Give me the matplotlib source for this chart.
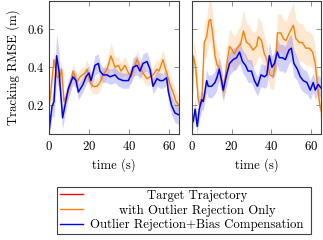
import matplotlib
matplotlib.use("Agg")
import matplotlib.pyplot as plt
import numpy as np
from matplotlib.lines import Line2D
from matplotlib.offsetbox import VPacker

FS = 9.2
plt.rcParams['font.family'] = ['cmr10', 'DejaVu Serif']
plt.rcParams['mathtext.fontset'] = 'cm'
plt.rcParams['axes.formatter.use_mathtext'] = True
plt.rcParams['font.size'] = FS

# ---------------- data ----------------
# left panel
t_left_blue = [0, 1.5, 2.5, 3.8, 5, 6.8, 8, 9.7, 12, 13.5, 14.7, 17, 18.5, 20, 21, 23, 24.7, 25.5, 27, 29,
               30.5, 33, 34.7, 37, 39.7, 41, 42, 44, 45.5, 47, 49, 50.5, 52, 54, 55.5, 57, 58.8, 59.7, 61.3, 63, 65]
rmse_left_blue = [0.06, 0.195, 0.22, 0.46, 0.38, 0.135, 0.2, 0.29, 0.35, 0.33, 0.27, 0.31, 0.35, 0.37, 0.33, 0.41,
                  0.42, 0.38, 0.36, 0.36, 0.35, 0.36, 0.34, 0.33, 0.33, 0.36, 0.40, 0.41, 0.38, 0.42, 0.43, 0.39,
                  0.30, 0.34, 0.33, 0.33, 0.345, 0.27, 0.20, 0.16, 0.15]
spread_left_blue = [0.03, 0.05, 0.08, 0.12, 0.10, 0.06, 0.05, 0.05, 0.04, 0.04, 0.04, 0.04, 0.04, 0.04, 0.04, 0.05,
                    0.05, 0.04, 0.04, 0.04, 0.04, 0.04, 0.04, 0.04, 0.04, 0.04, 0.05, 0.05, 0.04, 0.05, 0.05, 0.04,
                    0.04, 0.04, 0.04, 0.04, 0.04, 0.05, 0.05, 0.05, 0.05]

t_left_orange = [0, 0.5, 2.5, 4, 5.5, 6.3, 7.5, 9, 10.5, 12, 14, 15.5, 18, 19, 20.5, 22, 24, 25.5, 27, 29,
                 31, 33, 34.7, 36, 38, 39.7, 41, 44, 45.5, 47, 49, 50.5, 52, 54, 55, 57, 58, 60.5, 62, 63.5, 65]
rmse_left_orange = [0.2, 0.23, 0.44, 0.35, 0.35, 0.39, 0.22, 0.26, 0.30, 0.38, 0.32, 0.35, 0.37, 0.39, 0.32, 0.30,
                    0.30, 0.32, 0.36, 0.39, 0.46, 0.40, 0.41, 0.38, 0.41, 0.37, 0.35, 0.44, 0.40, 0.37, 0.34, 0.35,
                    0.36, 0.39, 0.38, 0.44, 0.40, 0.31, 0.27, 0.22, 0.20]
spread_left_orange = [0.03, 0.04, 0.05, 0.05, 0.05, 0.05, 0.04, 0.04, 0.04, 0.04, 0.04, 0.04, 0.04, 0.05, 0.04, 0.04,
                      0.04, 0.04, 0.04, 0.04, 0.07, 0.05, 0.05, 0.04, 0.05, 0.04, 0.04, 0.05, 0.05, 0.04, 0.04, 0.04,
                      0.04, 0.05, 0.05, 0.05, 0.05, 0.05, 0.05, 0.05, 0.05]

# right panel
t_right_blue = [0, 0.8, 1.7, 2.8, 3.8, 5, 5.8, 6.3, 7.5, 8.3, 10, 11.7, 12.8, 13.8, 15, 15.8, 17.5, 19, 20.8, 22.5,
                24, 25.5, 27, 28.3, 30, 31.5, 33, 34.8, 36.5, 37.7, 39, 40.3, 41.5, 43, 44, 45.5, 47, 48.8, 50, 51.3,
                53, 54.5, 56, 57.8, 59.5, 61, 62, 63.5, 65]
rmse_right_blue = [0.10, 0.12, 0.18, 0.09, 0.18, 0.23, 0.22, 0.25, 0.33, 0.30, 0.30, 0.32, 0.35, 0.39, 0.33, 0.28,
                   0.36, 0.42, 0.44, 0.45, 0.48, 0.43, 0.41, 0.38, 0.38, 0.33, 0.30, 0.36, 0.35, 0.36, 0.46, 0.40,
                   0.42, 0.48, 0.45, 0.45, 0.44, 0.49, 0.50, 0.42, 0.39, 0.35, 0.33, 0.32, 0.28, 0.32, 0.28, 0.31, 0.29]
spread_right_blue = [0.03, 0.04, 0.05, 0.04, 0.05, 0.05, 0.05, 0.05, 0.06, 0.06, 0.06, 0.06, 0.06, 0.06, 0.06, 0.05,
                     0.06, 0.06, 0.06, 0.06, 0.06, 0.06, 0.06, 0.06, 0.06, 0.05, 0.05, 0.06, 0.06, 0.06, 0.07, 0.06,
                     0.06, 0.07, 0.07, 0.07, 0.07, 0.07, 0.07, 0.07, 0.06, 0.06, 0.06, 0.06, 0.05, 0.05, 0.05, 0.05, 0.05]

t_right_orange = [0, 0.8, 2, 3.3, 4, 5, 6.3, 7.5, 8.7, 9.5, 10.5, 11.7, 12.8, 13.8, 15, 16, 17.5, 19, 20.3, 21.5,
                  22.8, 24.5, 26, 27.5, 29, 30.8, 32.5, 33.5, 35, 36.5, 37.7, 39.3, 41, 42.3, 43, 44.7, 46, 47.3, 49, 51,
                  52.3, 54, 55.5, 57.3, 59, 60.7, 62, 63, 64.3, 65]
rmse_right_orange = [0.12, 0.46, 0.40, 0.23, 0.20, 0.21, 0.53, 0.56, 0.645, 0.65, 0.58, 0.46, 0.41, 0.40, 0.33, 0.27,
                     0.41, 0.51, 0.49, 0.47, 0.50, 0.52, 0.59, 0.53, 0.52, 0.49, 0.51, 0.56, 0.54, 0.47, 0.44, 0.36,
                     0.35, 0.45, 0.58, 0.58, 0.55, 0.54, 0.58, 0.62, 0.55, 0.53, 0.53, 0.50, 0.50, 0.48, 0.42, 0.32,
                     0.20, 0.17]
spread_right_orange = [0.05, 0.08, 0.08, 0.06, 0.06, 0.06, 0.09, 0.10, 0.12, 0.12, 0.10, 0.09, 0.08, 0.08, 0.07, 0.06,
                       0.08, 0.09, 0.09, 0.09, 0.09, 0.10, 0.11, 0.10, 0.10, 0.09, 0.09, 0.10, 0.10, 0.09, 0.08, 0.07,
                       0.07, 0.08, 0.10, 0.10, 0.10, 0.10, 0.11, 0.12, 0.10, 0.10, 0.10, 0.09, 0.09, 0.09, 0.08, 0.07,
                       0.06, 0.05]

legend_labels = ["Target Trajectory", "with Outlier Rejection Only", "Outlier Rejection+Bias Compensation"]
x_ticks = [0, 20, 40, 60]
y_ticks = [0.2, 0.4, 0.6]

# ---------------- figure ----------------
W, H = 323, 240
fig = plt.figure(figsize=(W / 100, H / 100), dpi=100)
ax1 = fig.add_axes([49 / W, 1 - 134 / H, 130 / W, 133.5 / H])
ax2 = fig.add_axes([191.7 / W, 1 - 134 / H, 129.5 / W, 133.5 / H])

BLUE = (0, 0, 1)
ORANGE = (1, 0.5, 0)
RED = (1, 0, 0)

def panel(ax, tb, vb, sb, to, vo, so):
    tb, vb, sb = map(np.asarray, (tb, vb, sb))
    to, vo, so = map(np.asarray, (to, vo, so))
    ax.fill_between(to, vo - so, vo + so, color=ORANGE, alpha=0.18, lw=0)
    ax.fill_between(tb, vb - sb, vb + sb, color=BLUE, alpha=0.18, lw=0)
    ax.plot(to, vo, color=ORANGE, lw=1.0)
    ax.plot(tb, vb, color=BLUE, lw=1.1)
    ax.set_xlim(0, 65)
    ax.set_ylim(0.05, 0.75)
    ax.set_xticks(x_ticks)
    ax.set_yticks(y_ticks)
    ax.tick_params(direction='in', top=True, right=True, length=3.5, width=0.6,
                   color='#808080', labelsize=FS, pad=4)
    for s in ax.spines.values():
        s.set_color('#404040')
        s.set_linewidth(0.8)
    ax.set_xlabel("time (s)", fontsize=FS, labelpad=4)

panel(ax1, t_left_blue, rmse_left_blue, spread_left_blue,
      t_left_orange, rmse_left_orange, spread_left_orange)
panel(ax2, t_right_blue, rmse_right_blue, spread_right_blue,
      t_right_orange, rmse_right_orange, spread_right_orange)
ax2.set_yticklabels([])
ax1.set_yticklabels([f"{v:.1f}" for v in y_ticks])
ax1.set_ylabel("Tracking RMSE (m)", fontsize=FS, labelpad=5)

handles = [Line2D([], [], color=RED, lw=1.0),
           Line2D([], [], color=ORANGE, lw=1.0),
           Line2D([], [], color=BLUE, lw=1.0)]
leg = fig.legend(handles, legend_labels, loc='center',
                 bbox_to_anchor=(184 / W, 1 - 210.5 / H), fontsize=FS,
                 frameon=True, fancybox=False, framealpha=1, edgecolor='#404040',
                 handlelength=1.75, handletextpad=0.3, borderpad=0.25, labelspacing=0.2,
                 borderaxespad=0)
leg.get_frame().set_linewidth(0.8)

# centre the legend texts (pgfplots style)
try:
    fig.canvas.draw()
    renderer = fig.canvas.get_renderer()
    wmax = max(t.get_window_extent(renderer).width for t in leg.get_texts())
    col = leg._legend_handle_box.get_children()[0]
    for row in col.get_children():
        ta = row._children[1]
        row._children[1] = VPacker(pad=0, sep=0, width=wmax + 8, align='center', children=[ta])
    leg._legend_box.set_figure(fig)
except Exception:
    pass

fig.savefig("out.png", dpi=100)
